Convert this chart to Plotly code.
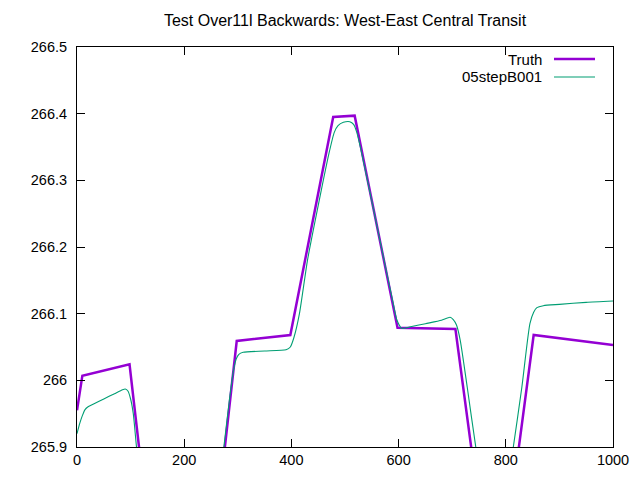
import plotly.graph_objects as go

# Truth series (thick purple)
truth_x = [0, 10, 98, 130, 262, 298, 398, 478, 518, 598, 706, 752, 808, 852, 1000]
truth_y = [265.955, 266.007, 266.024, 265.800, 265.800, 266.059, 266.068,
           266.395, 266.397, 266.079, 266.077, 265.800, 265.800, 266.068, 266.053]

# 05stepB001 series (thin green)
step_x = [0, 5, 10, 15, 20, 30, 50, 70, 85, 90, 95, 100, 105, 111, 125,
          260, 274, 285, 292, 297, 302, 310, 350, 390, 398, 405, 415, 430,
          447, 470, 480, 487, 497, 509, 516, 522, 530, 560, 590, 597, 606,
          620, 650, 680, 696, 702, 708, 715, 728, 744, 765,
          795, 814, 830, 845, 852, 858, 870, 900, 950, 1000]
step_y = [265.920, 265.935, 265.947, 265.956, 265.960, 265.964, 265.972, 265.980,
          265.986, 265.987, 265.984, 265.972, 265.950, 265.900, 265.800,
          265.800, 265.900, 265.975, 266.015, 266.032, 266.039, 266.042, 266.044,
          266.046, 266.050, 266.065, 266.100, 266.180, 266.250, 266.340, 266.372,
          266.382, 266.387, 266.388, 266.384, 266.372, 266.345, 266.230, 266.115,
          266.090, 266.078, 266.080, 266.085, 266.090, 266.0945, 266.091, 266.083,
          266.060, 265.990, 265.900, 265.800,
          265.800, 265.900, 265.990, 266.085, 266.102, 266.109, 266.112, 266.114,
          266.117, 266.119]

series_names = ['Truth', '05stepB001']
series_colors = ['rgb(148,0,211)', 'rgb(0,158,115)']

x_ticks = [0, 200, 400, 600, 800, 1000]
y_ticks = [265.9, 266.0, 266.1, 266.2, 266.3, 266.4, 266.5]
y_labels = ['265.9', '266', '266.1', '266.2', '266.3', '266.4', '266.5']

font = 'Liberation Sans, Arial, sans-serif'

fig = go.Figure()
fig.add_trace(go.Scatter(x=truth_x, y=truth_y, mode='lines', name=series_names[0],
                         line=dict(color=series_colors[0], width=2.5), showlegend=False))
fig.add_trace(go.Scatter(x=step_x, y=step_y, mode='lines', name=series_names[1],
                         line=dict(color=series_colors[1], width=1.1, shape='spline', smoothing=0.6),
                         showlegend=False))

# gnuplot-style key: text right aligned, sample line to its right
for i, (name, color) in enumerate(zip(series_names, series_colors)):
    ypos = 1 - (12 + 18 * i) / 400
    fig.add_annotation(x=(544 - 77) / 536, y=ypos, xref='paper', yref='paper',
                       text=name, showarrow=False, xanchor='right', yanchor='middle',
                       font=dict(size=15, color='black', family=font))
    fig.add_shape(type='line', xref='paper', yref='paper',
                  x0=(554 - 77) / 536, x1=(595 - 77) / 536, y0=ypos, y1=ypos,
                  line=dict(color=color, width=2.5 if i == 0 else 1.1))

axis_common = dict(showgrid=False, zeroline=False, showline=True, linecolor='black',
                   linewidth=1, mirror='ticks', ticks='inside', ticklen=8,
                   tickcolor='black', tickfont=dict(size=14.5, color='black', family=font))

# page body has an 8px margin, so the figure is a bit smaller than the window
fig.update_layout(
    width=632, height=472,
    paper_bgcolor='white', plot_bgcolor='white',
    margin=dict(l=69, r=27, t=39, b=33),
    title=dict(text='Test Over11l Backwards: West-East Central Transit',
               x=0.5, xref='paper', y=1 - 12 / 472, yref='container', yanchor='middle',
               font=dict(size=16, color='black', family=font)),
    xaxis=dict(range=[0, 1000], tickvals=x_ticks, **axis_common),
    yaxis=dict(range=[265.9, 266.5], tickvals=y_ticks, ticktext=y_labels,
               ticklabelstandoff=6, **axis_common),
)

fig.write_html('out.html')
